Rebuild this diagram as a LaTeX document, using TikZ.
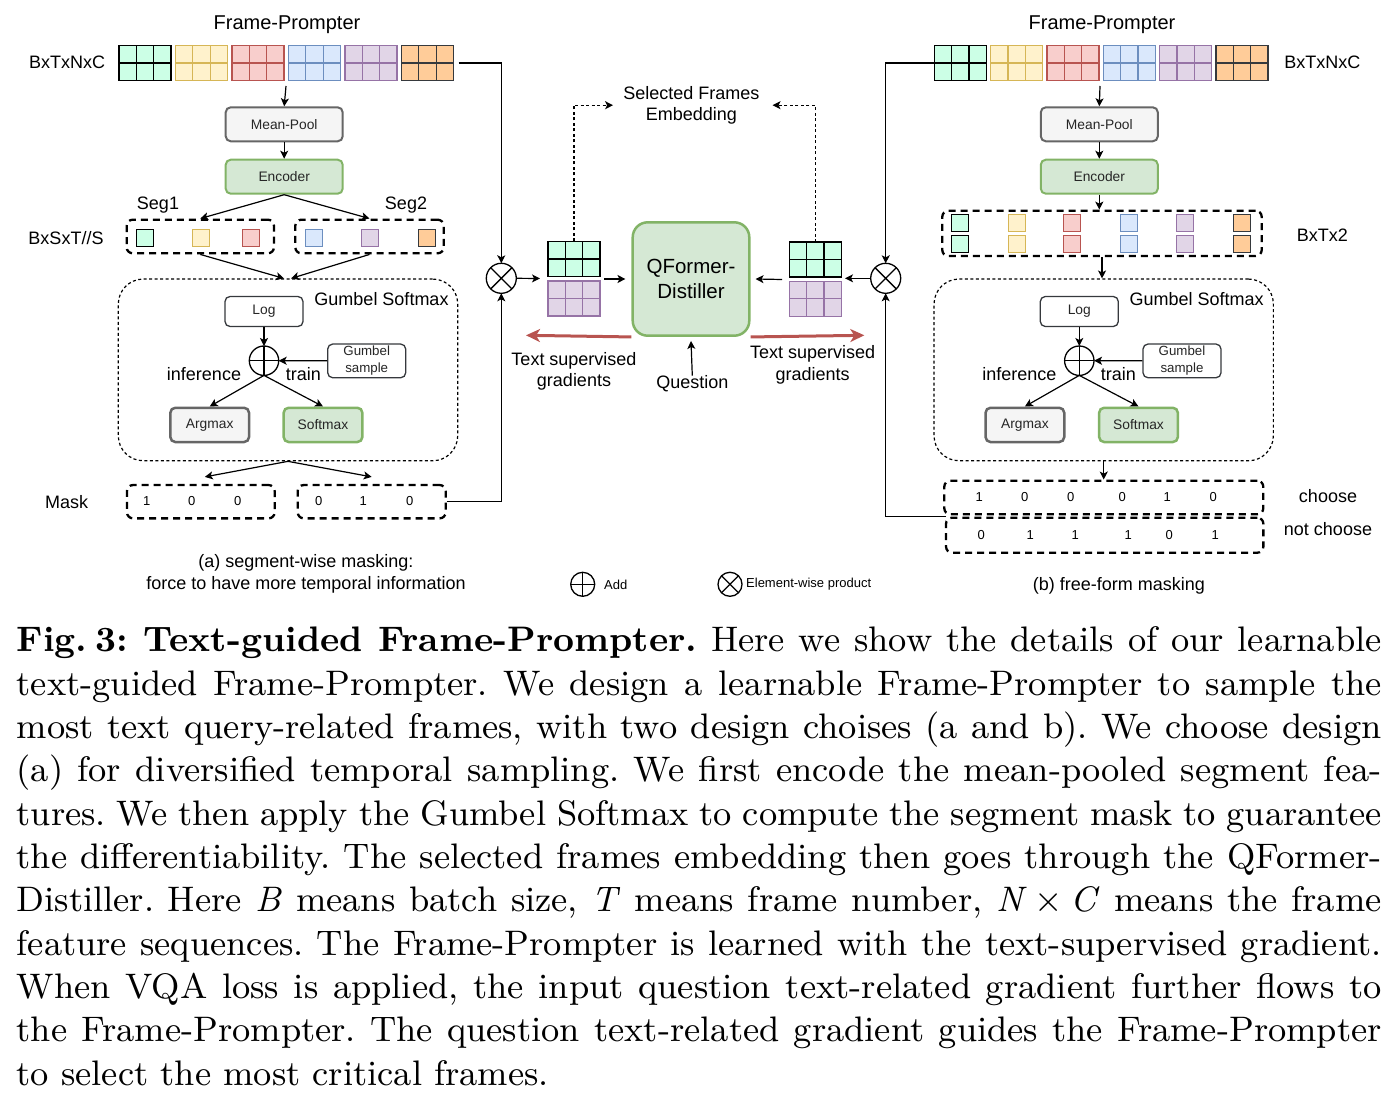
\documentclass[tikz,border=0pt]{standalone}
\usepackage{fontspec}
\setsansfont{Liberation Sans}
\newfontfamily\capfont{lmroman9-regular}[Extension=.otf,BoldFont=lmroman9-bold,ItalicFont=lmroman9-italic]
\usetikzlibrary{arrows.meta,positioning}

\definecolor{mintF}{HTML}{CCFFE6}
\definecolor{yelF}{HTML}{FFF2CC}\definecolor{yelD}{HTML}{D6B656}
\definecolor{redF}{HTML}{F8CECC}\definecolor{redD}{HTML}{B85450}
\definecolor{bluF}{HTML}{DAE8FC}\definecolor{bluD}{HTML}{6C8EBF}
\definecolor{purF}{HTML}{E1D5E7}\definecolor{purD}{HTML}{9673A6}
\definecolor{oraF}{HTML}{FFCC99}\definecolor{oraD}{HTML}{36393D}
\definecolor{grayF}{HTML}{F5F5F5}\definecolor{grayD}{HTML}{666666}
\definecolor{greenF}{HTML}{D5E8D4}\definecolor{greenD}{HTML}{82B366}

\tikzset{
  arr/.style={-{Stealth[length=8pt,width=8pt,inset=2pt]}, line width=1.2pt},
  redarr/.style={-{Stealth[length=14pt,width=13pt,inset=4pt]}, line width=3pt, draw=redD},
  box/.style={rounded corners=5pt, minimum width=117pt, minimum height=34pt, inner sep=0,
    font=\sffamily\fontsize{13.8}{16}\selectfont, text=black!85},
  graybox/.style={box, draw=grayD, fill=grayF, line width=2pt},
  greenbox/.style={box, draw=greenD, fill=greenF, line width=2pt},
  smallbox/.style={box, draw=oraD, fill=white, line width=1.3pt, minimum width=78pt, minimum height=30pt},
  block/.style={minimum width=52pt, minimum height=35pt, inner sep=0, outer sep=0, line width=1.5pt},
  sq/.style={minimum size=17pt, inner sep=0, line width=1.3pt},
  segbox/.style={draw, dash pattern=on 7pt off 5pt, line width=2.3pt, rounded corners=6pt, inner sep=0},
  gumbelbox/.style={draw, dash pattern=on 3pt off 2.5pt, line width=1.2pt, rounded corners=25pt, inner sep=0},
  lbl/.style={font=\sffamily\fontsize{18}{21.5}\selectfont, inner sep=0, align=center},
  ttl/.style={font=\sffamily\fontsize{20}{24}\selectfont, inner sep=0},
  num/.style={font=\sffamily\fontsize{13}{15}\selectfont, inner sep=0},
  opcirc/.style={circle, draw, line width=1.3pt, minimum size=30pt, inner sep=0, outer sep=0},
}

\newcommand{\framegrid}[4]{%
  \node[block, fill=#3, draw=#4] (#1) at (#2) {};
  \draw[#4, line width=1.3pt] ([xshift=-8.67pt]#1.north) -- ([xshift=-8.67pt]#1.south)
    ([xshift=8.67pt]#1.north) -- ([xshift=8.67pt]#1.south) (#1.west) -- (#1.east);
}
\newcommand{\addsign}[1]{\draw[line width=1.3pt] (#1.north) -- (#1.south) (#1.west) -- (#1.east);}
\newcommand{\mulsign}[1]{\draw[line width=1.3pt] (#1.north west) -- (#1.south east) (#1.north east) -- (#1.south west);}
\newcommand{\capline}[1]{\makebox[1365pt][s]{#1}\par}

\begin{document}
\begin{tikzpicture}[x=1pt,y=-1pt]
  \useasboundingbox (0,0) rectangle (1400,1094);

  \foreach \fc/\dc [count=\i from 0] in {mintF/black,yelF/yelD,redF/redD,bluF/bluD,purF/purD,oraF/oraD} {
    \framegrid{bL\i}{145+56.5*\i,63}{\fc}{\dc}
    \framegrid{bR\i}{960.3+56.35*\i,63}{\fc}{\dc}
  }
  \foreach \fc/\dc/\x [count=\i] in {mintF/black/145,yelF/yelD/201.3,redF/redD/251.3,bluF/bluD/314,purF/purD/370.3,oraF/oraD/426.7}
    \node[sq, fill=\fc, draw=\dc] (sL\i) at (\x,238) {};
  \foreach \fc/\dc/\x [count=\i] in {mintF/black/960,yelF/yelD/1016.7,redF/redD/1071.7,bluF/bluD/1129.3,purF/purD/1185,oraF/oraD/1242} {
    \node[sq, fill=\fc, draw=\dc] (sRa\i) at (\x,223.3) {};
    \node[sq, fill=\fc, draw=\dc] (sRb\i) at (\x,243.8) {};
  }

  \framegrid{gL1}{574,259}{mintF}{black}
  \framegrid{gL2}{574,298.7}{purF}{purD}
  \framegrid{gR1}{815.3,259.7}{mintF}{black}
  \framegrid{gR2}{815.3,298.8}{purF}{purD}

  \node[graybox]  (mpL)  at (284.2,124.3) {Mean-Pool};
  \node[greenbox] (encL) at (284.2,176.7) {Encoder};
  \node[graybox]  (mpR)  at (1099.3,124.3) {Mean-Pool};
  \node[greenbox] (encR) at (1099.3,176.7) {Encoder};

  \node[segbox, minimum width=147.3pt, minimum height=33.6pt] (seg1) at (200.3,236.5) {};
  \node[segbox, minimum width=148.4pt, minimum height=33.6pt] (seg2) at (369.5,236.5) {};
  \node[segbox, minimum width=319.4pt, minimum height=45.3pt] (segR) at (1102,233.4) {};

  \node[gumbelbox, minimum width=339.4pt, minimum height=181.7pt] (gumL) at (288,369.9) {};
  \node[gumbelbox, minimum width=339.3pt, minimum height=181.7pt] (gumR) at (1103.7,369.9) {};

  \node[smallbox] (logL) at (264,311.5) {Log};
  \node[smallbox] (logR) at (1079.3,311.5) {Log};
  \node[smallbox, minimum height=33.7pt, align=center, font=\sffamily\fontsize{13.3}{17}\selectfont] (gsL) at (366.7,360.9) {Gumbel\\sample};
  \node[smallbox, minimum height=33.7pt, align=center, font=\sffamily\fontsize{13.3}{17}\selectfont] (gsR) at (1182,360.9) {Gumbel\\sample};
  \node[opcirc, minimum size=29.4pt] (addL) at (264,360.7) {};
  \node[opcirc, minimum size=29.4pt] (addR) at (1079.3,360.7) {};
  \addsign{addL}
  \addsign{addR}
  \node[graybox, minimum width=78.7pt, minimum height=34.3pt, line width=2.5pt]  (argL)  at (209.7,424.9) {Argmax};
  \node[greenbox, minimum width=78.7pt, minimum height=34.3pt, line width=2.5pt] (softL) at (323,424.9) {Softmax};
  \node[graybox, minimum width=78.7pt, minimum height=34.3pt, line width=2.5pt]  (argR)  at (1024.9,424.9) {Argmax};
  \node[greenbox, minimum width=78.7pt, minimum height=34.3pt, line width=2.5pt] (softR) at (1138.5,424.9) {Softmax};

  \node[segbox, minimum width=147.7pt, minimum height=33.3pt] (mask1) at (200.8,501.7) {};
  \node[segbox, minimum width=148pt, minimum height=33.3pt]   (mask2) at (371.7,501.7) {};
  \node[segbox, minimum width=319pt, minimum height=33.6pt]   (choose) at (1103.8,497.5) {};
  \node[segbox, minimum width=317.3pt, minimum height=35pt]   (nchoose) at (1104.7,535.2) {};

  \begin{scope}[every node/.style={num}]
    \foreach \v/\x [count=\i] in {1/146.7,0/191.7,0/237.7,0/318.7,1/363.3,0/409.7}
      \node (mv\i) at (\x,501) {\v};
    \foreach \v/\x [count=\i] in {1/979.3,0/1024.7,0/1070.7,0/1122.3,1/1167.3,0/1213.3}
      \node (cv\i) at (\x,497.3) {\v};
    \foreach \v/\x [count=\i] in {0/981.3,1/1030.3,1/1075.3,1/1128.3,0/1169.3,1/1215.3}
      \node (nv\i) at (\x,535) {\v};
  \end{scope}

  \node[opcirc] (mulL) at (501.3,278.3) {};
  \node[opcirc] (mulR) at (885.7,278.3) {};
  \mulsign{mulL}
  \mulsign{mulR}

  \node[greenbox, minimum width=116.6pt, minimum height=113.4pt, rounded corners=15pt, line width=2.5pt,
    align=center, font=\sffamily\fontsize{20.5}{24.7}\selectfont, text=black] (qf) at (691,279) {QFormer-\\Distiller};

  \begin{scope}[every node/.style={lbl}]
    \node[ttl] (fpL) at (287,25) {Frame-Prompter};
    \node[ttl] (fpR) at (1102,25) {Frame-Prompter};
    \node (dimL) at (67,62.5) {BxTxNxC};
    \node (dimR) at (1322.3,62.5) {BxTxNxC};
    \node (seg1t) at (158,205) {Seg1};
    \node (seg2t) at (406,205) {Seg2};
    \node (dimS) at (66,238.5) {BxSxT//S};
    \node (dimT) at (1322.3,235.5) {BxTx2};
    \node (gtL) at (381.5,299) {Gumbel Softmax};
    \node (gtR) at (1196.7,299) {Gumbel Softmax};
    \node (infL) at (204,374.5) {inference};
    \node (infR) at (1019.3,374.5) {inference};
    \node (trL) at (303.3,374.5) {train};
    \node (trR) at (1118.3,374.5) {train};
    \node (maskt) at (66.7,502.5) {Mask};
    \node (chs) at (1328,496) {choose};
    \node (nchs) at (1328,529.5) {not choose};
    \node (capa) at (306,574) {(a) segment-wise masking:\\force to have more temporal information};
    \node (capb) at (1119,586) {(b) free-form masking};
    \node (sfe) at (691.3,105.2) {Selected Frames\\Embedding};
    \node (tsL) at (574,371.3) {Text supervised\\gradients};
    \node (tsR) at (812.7,365) {Text supervised\\gradients};
    \node (quest) at (692.3,384) {Question};
  \end{scope}

  \node[opcirc, minimum size=24pt] (legAdd) at (582.7,584.3) {};
  \node[opcirc, minimum size=24pt] (legMul) at (730,584.3) {};
  \addsign{legAdd}
  \mulsign{legMul}
  \node[num, anchor=west] (legAddt) at (604,584.5) {Add};
  \node[num, anchor=west] (legMult) at (746,584.5) {Element-wise product};

  \coordinate (topL) at (286,86);
  \coordinate (topR) at (1100,86);
  \coordinate (inL) at (540,278.5);
  \coordinate (outL) at (604,279);
  \coordinate (inR) at (845,278.3);
  \coordinate (outR) at (782,279.5);
  \coordinate (gradL) at (526,335.3);
  \coordinate (gradR) at (864.3,335.3);
  \coordinate (junc) at (946,516.5);

  \draw[arr] (topL) -- (mpL.north);
  \draw[arr] (mpL) -- (encL);
  \draw[arr] (encL.south) -- (seg1.north);
  \draw[arr] (encL.south) -- (seg2.north);
  \draw[arr] (seg1.south) -- ([xshift=-4pt]gumL.north);
  \draw[arr] (seg2.south) -- ([xshift=3pt]gumL.north);
  \draw[arr] (logL) -- (addL);
  \draw[arr] (gsL) -- (addL);
  \draw[arr] (addL.south) -- (argL.north);
  \draw[arr] (addL.south) -- (softL.north);
  \draw[arr] (gumL.south) -- ([xshift=4pt,yshift=7pt]mask1.north);
  \draw[arr] (gumL.south) -- ([yshift=7pt]mask2.north);
  \draw[arr] ([xshift=5pt]bL5.east) -| (mulL.north);
  \draw[arr] (mask2.east) -| (mulL.south);

  \draw[arr] (topR) -- (mpR.north);
  \draw[arr] (mpR) -- (encR);
  \draw[arr] (encR.south) -- (encR.south |- segR.north);
  \draw[arr] (segR.south) -- (segR.south |- gumR.north);
  \draw[arr] (logR) -- (addR);
  \draw[arr] (gsR) -- (addR);
  \draw[arr] (addR.south) -- (argR.north);
  \draw[arr] (addR.south) -- (softR.north);
  \draw[arr] (gumR.south) -- (gumR.south |- choose.north);
  \draw[arr] (bR0.west) -| (mulR.north);
  \draw[arr] (junc) -| (mulR.south);

  \draw[arr] (mulL.east) -- (inL);
  \draw[arr] (outL) -- ([xshift=-6pt]qf.west);
  \draw[arr] (mulR.west) -- (inR);
  \draw[arr] (outR) -- ([xshift=5pt]qf.east);
  \draw[arr] (quest.north) -- ([yshift=-4pt]qf.south);
  \draw[arr, dash pattern=on 3pt off 2.5pt] (gL1.north) |- ([xshift=-10pt]sfe.west);
  \draw[arr, dash pattern=on 3pt off 2.5pt] (gR1.north) |- ([xshift=13pt]sfe.east);
  \draw[redarr] (qf.south west) -- (gradL);
  \draw[redarr] (qf.south east) -- (gradR);

  \node[anchor=base west, inner sep=0, text width=1365pt, align=justify,
    font=\capfont\fontsize{35.45}{43.33}\selectfont] (caption) at (16.5,651.7) {%
    \spaceskip=0pt \xspaceskip=0pt \frenchspacing
    \capline{\textbf{Fig.\hspace{0.22em}3: Text-guided Frame-Prompter.} Here we show the details of our learnable}
    \capline{text-guided Frame-Prompter. We design a learnable Frame-Prompter to sample the}
    \capline{most text query-related frames, with two design choises (a and b). We choose design}
    \capline{(a) for diversified temporal sampling. We first encode the mean-pooled segment fea-}
    \capline{tures. We then apply the Gumbel Softmax to compute the segment mask to guarantee}
    \capline{the differentiability. The selected frames embedding then goes through the QFormer-}
    \capline{Distiller. Here \textit{B} means batch size, \textit{T} means frame number, \textit{N}\hspace{0.22em}×\hspace{0.22em}\textit{C} means the frame}
    \capline{feature sequences. The Frame-Prompter is learned with the text-supervised gradient.}
    \capline{When VQA loss is applied, the input question text-related gradient further flows to}
    \capline{the Frame-Prompter. The question text-related gradient guides the Frame-Prompter}
    to select the most critical frames.};
\end{tikzpicture}
\end{document}
